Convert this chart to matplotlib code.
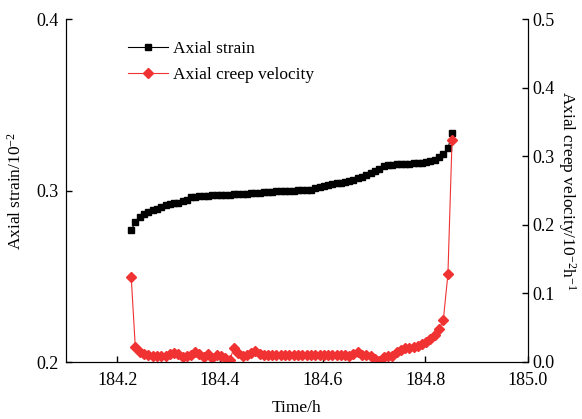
import matplotlib
matplotlib.use('Agg')
import matplotlib.pyplot as plt

plt.rcParams.update({
    'font.family': 'Liberation Serif',
    'mathtext.fontset': 'custom',
    'mathtext.rm': 'Liberation Serif',
    'mathtext.it': 'Liberation Serif',
    'font.size': 12.5,
    'xtick.labelsize': 13,
    'ytick.labelsize': 13,
})

# data
time_h = [184.227, 184.235, 184.244, 184.252, 184.260, 184.269, 184.277, 184.285,
          184.294, 184.302, 184.310, 184.319, 184.327, 184.335, 184.344, 184.352,
          184.360, 184.369, 184.377, 184.385, 184.394, 184.402, 184.410, 184.419,
          184.427, 184.435, 184.444, 184.452, 184.460, 184.469, 184.477, 184.485,
          184.494, 184.502, 184.510, 184.519, 184.527, 184.535, 184.544, 184.552,
          184.560, 184.569, 184.577, 184.585, 184.594, 184.602, 184.610, 184.619,
          184.627, 184.635, 184.644, 184.652, 184.660, 184.669, 184.677, 184.685,
          184.694, 184.702, 184.710, 184.719, 184.727, 184.735, 184.744, 184.752,
          184.760, 184.769, 184.777, 184.785, 184.794, 184.802, 184.810, 184.819,
          184.827, 184.835, 184.844, 184.852]

axial_strain = [0.2770, 0.2815, 0.2845, 0.2862, 0.2872, 0.2885, 0.2893, 0.2905,
                0.2915, 0.2920, 0.2926, 0.2930, 0.2936, 0.2943, 0.2960, 0.2964,
                0.2966, 0.2968, 0.2970, 0.2971, 0.2973, 0.2974, 0.2975, 0.2976,
                0.2977, 0.2978, 0.2980, 0.2982, 0.2984, 0.2985, 0.2987, 0.2989,
                0.2991, 0.2993, 0.2995, 0.2996, 0.2998, 0.2999, 0.3000, 0.3001,
                0.3002, 0.3003, 0.3005, 0.3012, 0.3020, 0.3028, 0.3034, 0.3038,
                0.3042, 0.3046, 0.3050, 0.3054, 0.3062, 0.3070, 0.3080, 0.3090,
                0.3102, 0.3115, 0.3128, 0.3140, 0.3146, 0.3150, 0.3152, 0.3153,
                0.3155, 0.3156, 0.3158, 0.3160, 0.3163, 0.3167, 0.3172, 0.3180,
                0.3195, 0.3210, 0.3246, 0.3333]

creep_velocity = [0.124, 0.022, 0.015, 0.011, 0.010, 0.009, 0.009, 0.009,
                  0.009, 0.011, 0.013, 0.011, 0.008, 0.009, 0.010, 0.015,
                  0.012, 0.008, 0.011, 0.006, 0.010, 0.009, 0.006, 0.003,
                  0.020, 0.013, 0.009, 0.010, 0.013, 0.016, 0.011, 0.010,
                  0.010, 0.010, 0.010, 0.010, 0.010, 0.010, 0.010, 0.010,
                  0.010, 0.010, 0.010, 0.010, 0.010, 0.010, 0.010, 0.010,
                  0.010, 0.010, 0.010, 0.009, 0.012, 0.015, 0.010, 0.010,
                  0.009, 0.005, 0.001, 0.008, 0.009, 0.009, 0.014, 0.018,
                  0.020, 0.021, 0.022, 0.024, 0.026, 0.029, 0.033, 0.040,
                  0.048, 0.061, 0.128, 0.323]

fig = plt.figure(figsize=(5.82, 4.19), dpi=100)
ax = fig.add_axes([66/582, 1-362/419, 462/582, 343/419])
ax2 = ax.twinx()

l1, = ax.plot(time_h, axial_strain, color='black', lw=0.8, marker='s',
              ms=5, label='Axial strain')
l2, = ax2.plot(time_h, creep_velocity, color='#f03232', lw=0.8, marker='D',
               ms=5.5, label='Axial creep velocity')

ax.set_xlim(184.1, 185.0)
ax.set_xticks([184.2, 184.4, 184.6, 184.8, 185.0])
ax.set_ylim(0.2, 0.4)
ax.set_yticks([0.2, 0.3, 0.4])
ax2.set_ylim(0, 0.5)
ax2.set_yticks([0.0, 0.1, 0.2, 0.3, 0.4, 0.5])

for a in (ax, ax2):
    a.spines['top'].set_visible(False)
    a.tick_params(direction='in', length=4, width=1)
ax.tick_params(axis='y', pad=5)
ax.tick_params(axis='x', pad=7)
ax2.tick_params(axis='y', pad=3)

ax.set_xlabel('Time/h', labelpad=8)
ax.set_ylabel('Axial strain/10$^{-2}$', labelpad=9)
ax2.set_ylabel('Axial creep velocity/10$^{-2}$h$^{-1}$', rotation=270, labelpad=17)

ax2.legend([l1, l2], ['Axial strain', 'Axial creep velocity'], loc='upper left',
           bbox_to_anchor=(0.134, 0.937), frameon=False, borderpad=0,
           borderaxespad=0, handlelength=2.3, handletextpad=0.3,
           labelspacing=0.6, fontsize=12.5)

plt.savefig('out.png', dpi=100)
